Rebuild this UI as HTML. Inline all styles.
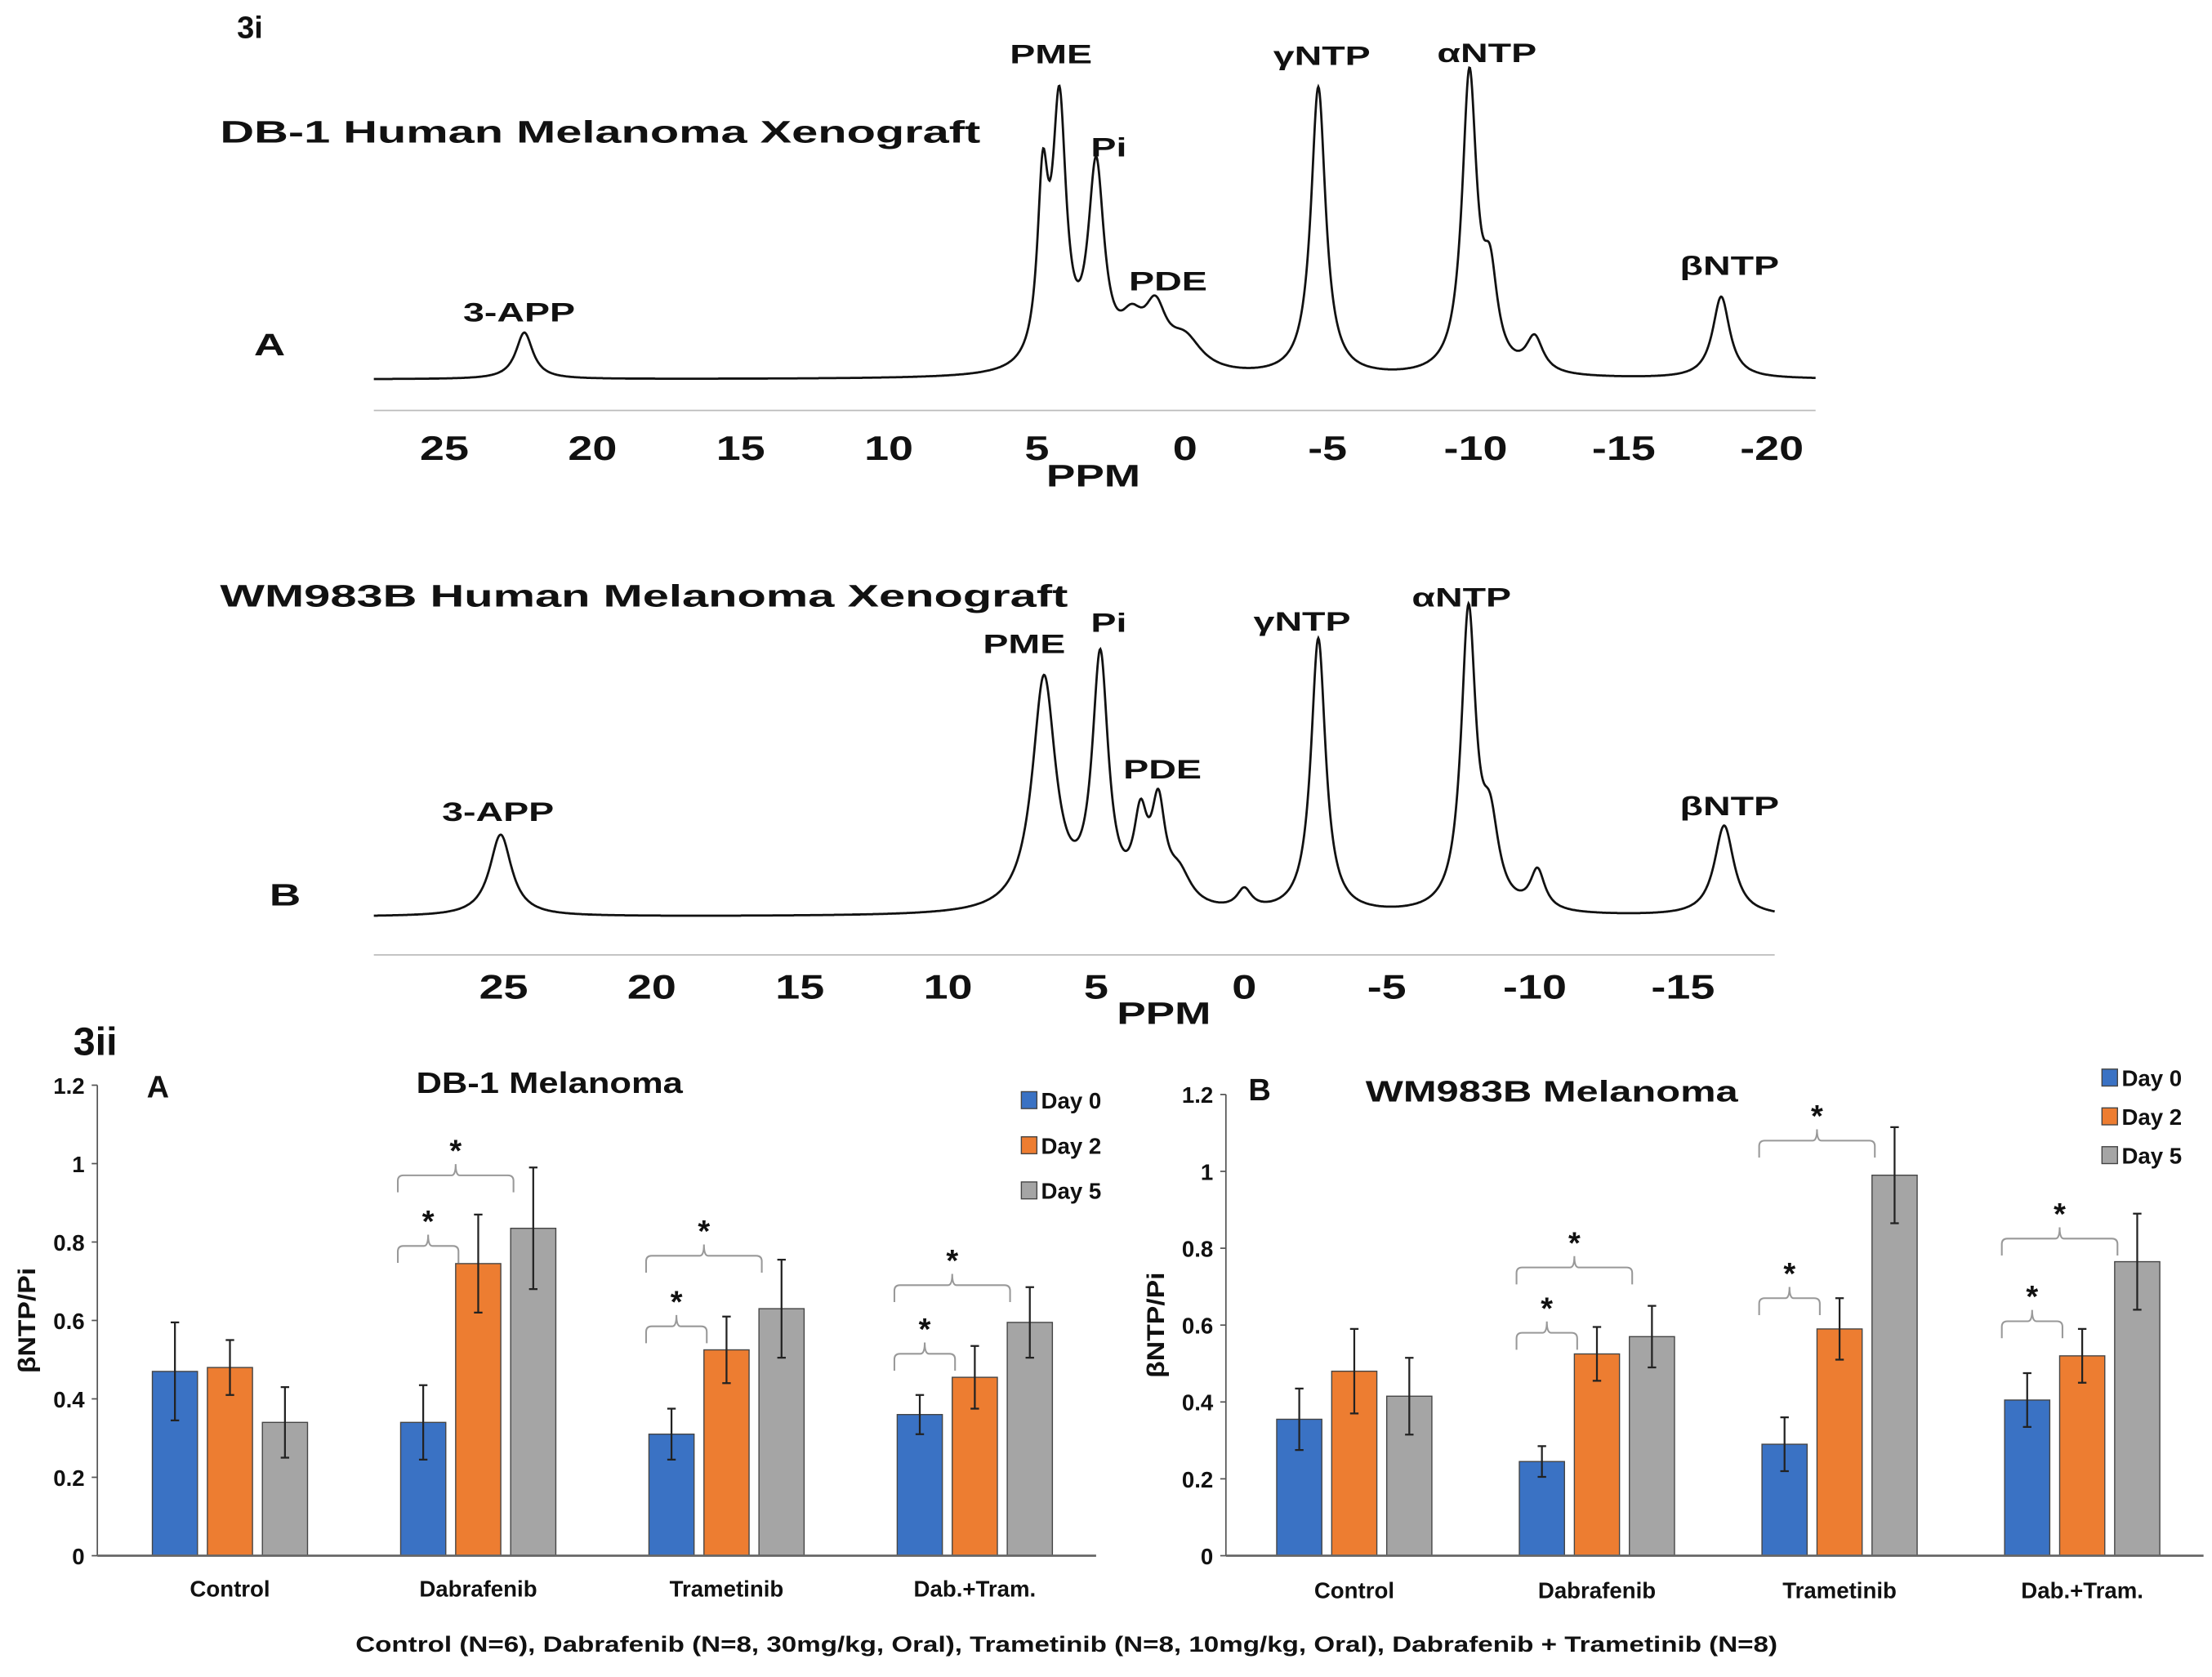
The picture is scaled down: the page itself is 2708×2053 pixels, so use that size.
<!DOCTYPE html>
<html><head><meta charset="utf-8"><style>
html,body{margin:0;padding:0;background:#fff;width:2708px;height:2053px;overflow:hidden}
svg{display:block}
text{font-family:"Liberation Sans",sans-serif;font-weight:bold;fill:#111}
</style></head><body>
<svg id="fig" width="2708" height="2053" viewBox="0 0 1568 1189" preserveAspectRatio="none" xmlns="http://www.w3.org/2000/svg">
<g id="specA"></g>
<g id="specB"></g>
<g id="barA"></g>
<g id="barB"></g>
<text x="168" y="27" font-size="22">3i</text>
<text x="52" y="748" font-size="28">3ii</text>
<text x="252" y="1171" font-size="15.5" textLength="1008" lengthAdjust="spacingAndGlyphs">Control (N=6), Dabrafenib (N=8,  30mg/kg, Oral), Trametinib (N=8,  10mg/kg, Oral), Dabrafenib + Trametinib (N=8)</text>
</svg>
<script>
// ---- spectrum data (ppm, peak height px, half-width ppm) ----
const specAPpm    = [22.3, 4.8, 4.24, 3.0, 1.8, 1.0, 0.0, -4.5, -9.6, -10.3, -11.8, -18.1];
const specAHeight = [33, 120, 180, 140, 28, 38, 22, 205, 210, 60, 25, 58];
const specAWidth  = [0.35, 0.22, 0.28, 0.33, 0.5, 0.45, 0.7, 0.3, 0.3, 0.3, 0.35, 0.35];
const specATicks  = [25, 20, 15, 10, 5, 0, -5, -10, -15, -20];
const specBPpm    = [25.1, 6.76, 4.86, 3.5, 2.9, 2.2, 0.0, -2.5, -7.57, -8.3, -9.9, -16.2];
const specBHeight = [58, 165, 175, 55, 65, 22, 14, 195, 210, 55, 28, 64];
const specBWidth  = [0.45, 0.48, 0.33, 0.28, 0.28, 0.5, 0.3, 0.3, 0.3, 0.35, 0.3, 0.4];
const specBTicks  = [25, 20, 15, 10, 5, 0, -5, -10, -15];

// ---- bar chart data ----
const categories = ["Control", "Dabrafenib", "Trametinib", "Dab.+Tram."];
const seriesNames = ["Day 0", "Day 2", "Day 5"];
const yTicks = [0, 0.2, 0.4, 0.6, 0.8, 1, 1.2];
const aDay0 = [0.47, 0.34, 0.31, 0.36];
const aDay2 = [0.48, 0.745, 0.525, 0.455];
const aDay5 = [0.34, 0.835, 0.63, 0.595];
const aErr0 = [0.125, 0.095, 0.065, 0.05];
const aErr2 = [0.07, 0.125, 0.085, 0.08];
const aErr5 = [0.09, 0.155, 0.125, 0.09];
const aBr01 = [null, 0.79, 0.585, 0.515];
const aBr02 = [null, 0.97, 0.765, 0.69];
const bDay0 = [0.355, 0.245, 0.29, 0.405];
const bDay2 = [0.48, 0.525, 0.59, 0.52];
const bDay5 = [0.415, 0.57, 0.99, 0.765];
const bErr0 = [0.08, 0.04, 0.07, 0.07];
const bErr2 = [0.11, 0.07, 0.08, 0.07];
const bErr5 = [0.1, 0.08, 0.125, 0.125];
const bBr01 = [null, 0.58, 0.67, 0.61];
const bBr02 = [null, 0.75, 1.08, 0.825];

const NS = "http://www.w3.org/2000/svg";
function mk(parent, tag, attrs, txt){
  const e = document.createElementNS(NS, tag);
  for (const k in attrs) e.setAttribute(k, attrs[k]);
  if (txt !== undefined) e.textContent = txt;
  parent.appendChild(e);
  return e;
}
function stretch(el, f){
  const w = el.getComputedTextLength();
  if (w > 0){
    el.setAttribute("textLength", (w * f).toFixed(1));
    el.setAttribute("lengthAdjust", "spacingAndGlyphs");
  }
}

function drawSpectrum(gid, ppm, hgt, wid, ticks, cfg){
  const g = document.getElementById(gid);
  const X = p => cfg.x0 - cfg.pxPerPpm * p;
  let d = "";
  for (let x = cfg.xs; x <= cfg.xe; x += 0.5){
    const p = (cfg.x0 - x) / cfg.pxPerPpm;
    let y = cfg.base;
    for (let i = 0; i < ppm.length; i++){
      const u = (p - ppm[i]) / wid[i];
      y -= hgt[i] / (1 + u*u);
    }
    d += (d ? "L" : "M") + x.toFixed(1) + "," + y.toFixed(1);
  }
  const line = mk(g, "path", {d: d, fill: "none", stroke: "#111", "stroke-width": 1.6});
  
  
  const ax = mk(g, "line", {x1: cfg.xs, x2: cfg.xe, y1: cfg.axisY, y2: cfg.axisY, stroke: "#bbb", "stroke-width": 1});
  
  
  ticks.forEach(t => {
    const tx = mk(g, "text", {x: X(t) + (t < 0 ? -4 : 0), y: cfg.tickY, "font-size": 24, "text-anchor": "middle"}, t < 0 ? "-" + (-t) : String(t));
    
    
    stretch(tx, 1.3);
  });
  const pl = mk(g, "text", {x: cfg.ppmX, y: cfg.ppmY, "font-size": 22, "text-anchor": "middle"}, "PPM");
  
  
  stretch(pl, 1.4);
  const tl = mk(g, "text", {x: 156, y: cfg.titleY, "font-size": 22, textLength: cfg.titleLen, lengthAdjust: "spacingAndGlyphs"}, cfg.title);
  
  
  const lt = mk(g, "text", {x: cfg.letterX, y: cfg.letterY, "font-size": 22}, cfg.letter);
  
  
  stretch(lt, 1.4);
  cfg.labels.forEach(l => {
    const t = mk(g, "text", {x: l[1], y: l[2], "font-size": 19, "text-anchor": "middle"}, l[0]);
    
    
    stretch(t, 1.42);
  });
}

drawSpectrum("specA", specAPpm, specAHeight, specAWidth, specATicks, {
  x0: 840, pxPerPpm: 21, xs: 265, xe: 1287, base: 269, axisY: 291, tickY: 326,
  ppmX: 775, ppmY: 345, title: "DB-1 Human Melanoma Xenograft", titleLen: 539, titleY: 101, letter: "A", letterX: 180, letterY: 252,
  labels: [["3-APP", 368, 228], ["PME", 745, 45], ["Pi", 786, 111], ["PDE", 828, 206], ["γNTP", 937, 46], ["αNTP", 1054, 44], ["βNTP", 1226, 195]]
});
drawSpectrum("specB", specBPpm, specBHeight, specBWidth, specBTicks, {
  x0: 882, pxPerPpm: 21, xs: 265, xe: 1258, base: 650, axisY: 677, tickY: 708,
  ppmX: 825, ppmY: 726, title: "WM983B Human Melanoma Xenograft", titleLen: 601, titleY: 430, letter: "B", letterX: 191, letterY: 642,
  labels: [["3-APP", 353, 582], ["PME", 726, 463], ["Pi", 786, 448], ["PDE", 824, 552], ["γNTP", 923, 447], ["αNTP", 1036, 430], ["βNTP", 1226, 578]]
});

const colors = ["#3a72c4", "#ed7d31", "#a5a5a5"];
function drawBars(gid, vals, errs, br01, br02, cfg){
  const g = document.getElementById(gid);
  const Y = v => cfg.y0 - v * cfg.pxPerUnit;
  const barX = (ci, si) => cfg.gx0 + ci * cfg.gStep + si * cfg.bStep;
  const ax = mk(g, "line", {x1: cfg.axX, x2: cfg.axX, y1: Y(1.2), y2: Y(0), stroke: "#555", "stroke-width": 1});
  
  
  yTicks.forEach(t => {
    const tk = mk(g, "line", {x1: cfg.axX - 4, x2: cfg.axX, y1: Y(t), y2: Y(t), stroke: "#555"});
    
    
    const tl = mk(g, "text", {x: cfg.axX - 9, y: Y(t) + 6, "font-size": 16, "text-anchor": "end"}, String(t));
    
    
  });
  const yt = mk(g, "text", {x: 0, y: 0, "font-size": 17, "text-anchor": "middle", transform: `translate(${cfg.axX - 44},${Y(0.6)}) rotate(-90)`}, "βNTP/Pi");
  
  
  stretch(yt, 1.15);
  categories.forEach((c, ci) => {
    vals.forEach((arr, si) => {
      const x = barX(ci, si), v = arr[ci];
      const r = mk(g, "rect", {x: x, y: Y(v), width: cfg.bw, height: Y(0) - Y(v), fill: colors[si], stroke: "#444", "stroke-width": 0.8});
      
      
      const cx = x + cfg.bw / 2, e = errs[si][ci];
      const eb = mk(g, "path", {d: `M${cx},${Y(v + e)}V${Y(v - e)}M${cx - 3},${Y(v + e)}H${cx + 3}M${cx - 3},${Y(v - e)}H${cx + 3}`, stroke: "#222", "stroke-width": 1.3, fill: "none"});
      
      
    });
    const lbl = mk(g, "text", {x: barX(ci, 1) + cfg.bw / 2, y: cfg.catY, "font-size": 16, "text-anchor": "middle"}, c);
    
    
    [[br01, 1], [br02, 2]].forEach(([arr, s2]) => {
      const v = arr[ci];
      if (v === null) return;
      const x1 = barX(ci, 0) - 2, x2 = barX(ci, s2) + 2, yb = Y(v), xm = (x1 + x2) / 2;
      const b = mk(g, "path", {d: `M${x1},${yb + 12}V${yb + 4}Q${x1},${yb} ${x1 + 4},${yb}H${xm - 3}Q${xm},${yb} ${xm},${yb - 8}Q${xm},${yb} ${xm + 3},${yb}H${x2 - 4}Q${x2},${yb} ${x2},${yb + 4}V${yb + 12}`, fill: "none", stroke: "#999", "stroke-width": 1.2});
      
      
      const s = mk(g, "text", {x: xm, y: yb - 10, "font-size": 22, "text-anchor": "middle"}, "*");
      
      
    });
  });
  const xa = mk(g, "line", {x1: cfg.axX, x2: cfg.axEnd, y1: Y(0), y2: Y(0), stroke: "#666", "stroke-width": 1.6});
  
  
  const L = mk(g, "text", {x: cfg.letX, y: cfg.letY, "font-size": 22}, cfg.letter);
  
  
  const T = mk(g, "text", {x: cfg.titleX, y: cfg.titleY, "font-size": 21, textLength: cfg.titleLen, lengthAdjust: "spacingAndGlyphs"}, cfg.title);
  
  
  seriesNames.forEach((n, si) => {
    const ly = cfg.legY + si * cfg.legStep;
    const sq = mk(g, "rect", {x: cfg.legX, y: ly - 6, width: 11, height: 12, fill: colors[si], stroke: "#444", "stroke-width": 0.8});
    
    
    const lt = mk(g, "text", {x: cfg.legX + 14, y: ly + 6, "font-size": 16}, n);
    
    
  });
}

drawBars("barA", [aDay0, aDay2, aDay5], [aErr0, aErr2, aErr5], aBr01, aBr02, {
  y0: 1103, pxPerUnit: 278, axX: 69, axEnd: 777, gx0: 108, gStep: 176, bStep: 39, bw: 32, catY: 1132,
  letter: "A", letX: 104, letY: 778, title: "DB-1 Melanoma", titleLen: 189, titleX: 295, titleY: 775, legX: 724, legY: 780, legStep: 32
});
drawBars("barB", [bDay0, bDay2, bDay5], [bErr0, bErr2, bErr5], bBr01, bBr02, {
  y0: 1103, pxPerUnit: 272.5, axX: 869, axEnd: 1562, gx0: 905, gStep: 172, bStep: 39, bw: 32, catY: 1133,
  letter: "B", letX: 885, letY: 780, title: "WM983B Melanoma", titleLen: 264, titleX: 968, titleY: 781, legX: 1490, legY: 764, legStep: 27.5
});
</script>
</body></html>
